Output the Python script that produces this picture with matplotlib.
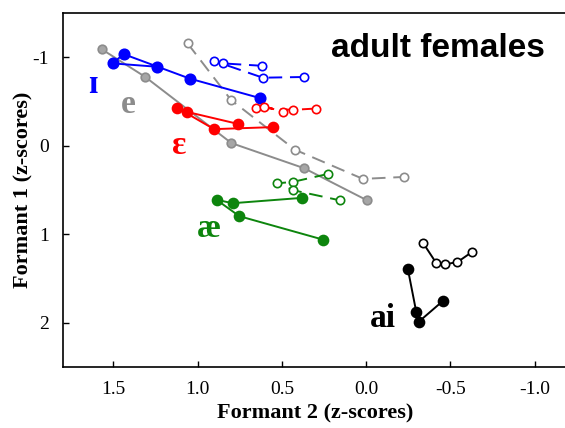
import numpy as np
import matplotlib
matplotlib.use("Agg")
import matplotlib.pyplot as plt

# F2 (x) / F1 (y) z-score trajectories, 5 points per vowel
# filled = one group, open = other group (dashed)
i_fill_x = [0.627, 1.045, 1.439, 1.504, 1.241]
i_fill_y = [-0.538, -0.759, -1.037, -0.932, -0.894]
i_open_x = [0.371, 0.613, 0.904, 0.851, 0.619]
i_open_y = [-0.778, -0.770, -0.961, -0.932, -0.905]

e_fill_x = [1.567, 1.312, 0.799, 0.368, -0.005]
e_fill_y = [-1.090, -0.781, -0.030, 0.254, 0.617]
e_open_x = [1.059, 0.802, 0.422, 0.019, -0.223]
e_open_y = [-1.158, -0.519, 0.045, 0.375, 0.353]

eh_fill_x = [0.551, 0.902, 1.124, 1.062, 0.762]
eh_fill_y = [-0.211, -0.188, -0.432, -0.383, -0.248]
eh_open_x = [0.300, 0.435, 0.652, 0.603, 0.494]
eh_open_y = [-0.421, -0.406, -0.432, -0.443, -0.387]

ae_fill_x = [0.383, 0.791, 0.887, 0.752, 0.254]
ae_fill_y = [0.590, 0.650, 0.612, 0.797, 1.063]
ae_open_x = [0.227, 0.435, 0.528, 0.431, 0.157]
ae_open_y = [0.319, 0.409, 0.425, 0.504, 0.617]

ai_fill_x = [-0.248, -0.298, -0.312, -0.456]
ai_fill_y = [1.398, 1.886, 1.992, 1.755]
ai_open_x = [-0.337, -0.417, -0.466, -0.542, -0.631]
ai_open_y = [1.097, 1.330, 1.342, 1.316, 1.198]

plt.rcParams['font.family'] = ['Liberation Serif', 'DejaVu Serif']

fig = plt.figure(figsize=(5.65, 4.28), dpi=100)
ax = fig.add_axes([0.111, 0.1432, 0.895, 0.826])

def traj(x, y, col, face, ms, ls='-', edge=None):
    ax.plot(x, y, ls=ls, color=col, lw=1.4, marker='o', ms=ms,
            mfc=face, mec=edge or col, mew=1.2,
            dashes=(7, 4) if ls == '--' else (None, None))

traj(e_open_x, e_open_y, '#8c8c8c', 'white', 6, '--')
traj(e_fill_x, e_fill_y, '#8c8c8c', '#a6a6a6', 6.2)
traj(i_open_x, i_open_y, '#0000ff', 'white', 6, '--')
traj(i_fill_x, i_fill_y, '#0000ff', '#0000ff', 7.5)
traj(eh_open_x, eh_open_y, '#ff0000', 'white', 6, '--')
traj(eh_fill_x, eh_fill_y, '#ff0000', '#ff0000', 7.2)
traj(ae_open_x, ae_open_y, '#0d850d', 'white', 6, '--')
traj(ae_fill_x, ae_fill_y, '#0d850d', '#0d850d', 7.2)
traj(ai_open_x, ai_open_y, 'black', 'white', 6)
traj(ai_fill_x, ai_fill_y, 'black', 'black', 7.2)

lab_kw = dict(fontsize=24, fontweight='bold', ha='center', va='center')
ax.text(1.62, -0.69, '\u026a', color='#0000ff', **lab_kw)
ax.text(1.41, -0.47, 'e', color='#8c8c8c', **lab_kw)
ax.text(1.11, 0.0, '\u025b', color='#ff0000', **lab_kw)
ax.text(0.935, 0.94, '\u00e6', color='#0d850d', **lab_kw)
ax.text(-0.1, 1.96, 'ai', color='black', **lab_kw)

ax.text(0.207, -1.0, 'adult females', fontsize=24, fontweight='bold',
        family=['Liberation Sans', 'DejaVu Sans'], ha='left', va='baseline')

ax.set_xlim(1.8, -1.2)
ax.set_ylim(2.5, -1.5)
ax.set_xticks([1.5, 1.0, 0.5, 0.0, -0.5, -1.0])
ax.set_xticklabels(['1.5', '1.0', '0.5', '0.0', '-0.5', '-1.0'])
ax.set_yticks([-1, 0, 1, 2])
ax.set_yticklabels(['-1', '0', '1', '2'])
ax.tick_params(direction='in', length=4, width=1, labelsize=14, pad=10)
for s in ax.spines.values():
    s.set_linewidth(1.2)

ax.set_xlabel('Formant 2 (z-scores)', fontsize=16, fontweight='bold', labelpad=4)
ax.set_ylabel('Formant 1 (z-scores)', fontsize=16, fontweight='bold', labelpad=-1)

fig.savefig('out.png', dpi=100)
